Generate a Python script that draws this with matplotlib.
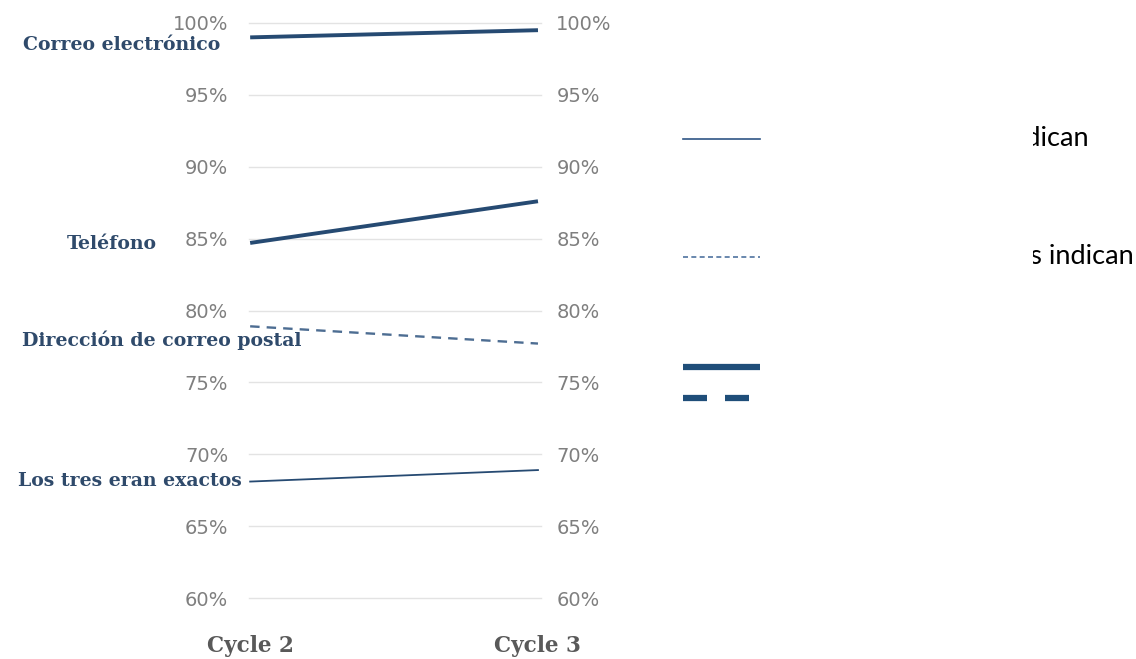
import matplotlib
matplotlib.use("Agg")
from matplotlib import pyplot as plt
from matplotlib.patches import Rectangle
from matplotlib.lines import Line2D
import matplotlib.ticker as ticker

# %% --------------- DATA ---------------------------------------------------- #
cycles = ["Cycle 2", "Cycle 3"]
correo_electronico = [99.0, 99.5]
telefono = [84.7, 87.6]
direccion_postal = [78.9, 77.7]
los_tres = [68.1, 68.9]
y_ticks = [60, 65, 70, 75, 80, 85, 90, 95, 100]

W, H = 1136, 659
navy = "#264a72"
grey_txt = "#7f7f7f"

fig = plt.figure(figsize=(W / 100, H / 100), dpi=100)
ax = fig.add_axes([249 / W, 1 - 598 / H, (541 - 249) / W, (598 - 23) / H])

x = [0, 1]
ax.plot(x, correo_electronico, color=navy, lw=2.8, solid_capstyle="butt", clip_on=False)
ax.plot(x, telefono, color=navy, lw=2.8, solid_capstyle="butt", clip_on=False)
ax.plot(x, direccion_postal, color="#4d6d92", lw=1.7, ls=(0, (4, 3)), clip_on=False)
ax.plot(x, los_tres, color=navy, lw=1.3, clip_on=False)

ax.set_xlim(-0.004, 1.0105)
ax.set_ylim(60, 100)
ax.set_yticks(y_ticks)
ax.yaxis.set_major_formatter(ticker.FuncFormatter(lambda v, p: f"{v:.0f}%"))
ax.grid(axis="y", color="#e3e3e3", lw=1.0)
for gl in ax.get_ygridlines():
    gl.set_clip_on(False)
ax.set_axisbelow(True)
for s in ax.spines.values():
    s.set_visible(False)
ax.set_xticks([])
ax.tick_params(axis="y", length=0, pad=15, labelsize=14, labelcolor=grey_txt)

ax2 = ax.twinx()
ax2.set_ylim(60, 100)
ax2.set_yticks(y_ticks)
ax2.yaxis.set_major_formatter(ticker.FuncFormatter(lambda v, p: f"{v:.0f}%"))
for s in ax2.spines.values():
    s.set_visible(False)
ax2.tick_params(axis="y", length=0, pad=11, labelsize=14, labelcolor=grey_txt)

# category labels
serif = ["DejaVu Serif"]
lab_kw = dict(family=serif, weight="bold", color="#2f4a6b", fontsize=13.6,
              ha="right", va="center")
fig.text(220 / W, 1 - 45 / H, "Correo electrónico", **lab_kw)
fig.text(157 / W, 1 - 244 / H, "Teléfono", **lab_kw)
fig.text(301 / W, 1 - 340 / H, "Dirección de correo postal", **lab_kw)
fig.text(242 / W, 1 - 481 / H, "Los tres eran exactos", **lab_kw)

# cycle labels
for xi, c in zip([250, 537], cycles):
    fig.text(xi / W, 1 - 646 / H, c, family=serif, weight="bold", color="#595959",
             fontsize=15.5, ha="center", va="center")

# legend fragments on the right
def leg_line(y, **kw):
    fig.add_artist(Line2D([683 / W, 760 / W], [1 - y / H, 1 - y / H], **kw))

leg_line(139, color="#2f5585", lw=1.2)
leg_line(257, color="#4f73a0", lw=1.2, ls=(0, (3, 2)))
leg_line(367, color="#1f4e79", lw=4.5, solid_capstyle="butt")
leg_line(398, color="#1f4e79", lw=4.5, ls=(0, (3.84, 2.88)), dash_capstyle="butt")

fig.text(1089 / W, 1 - 139 / H, "Las líneas sólidas indican", family=["Lato"],
         fontsize=19.5, ha="right", va="center", color="black")
fig.text(1134 / W, 1 - 257 / H, "Las líneas discontinuas indican", family=["Lato"],
         fontsize=19.5, ha="right", va="center", color="black")
fig.add_artist(Rectangle((761 / W, 0.3), (1033 - 761) / W, 0.7, transform=fig.transFigure,
                         facecolor="white", edgecolor="none", zorder=10))

fig.savefig("out.png", dpi=100)
